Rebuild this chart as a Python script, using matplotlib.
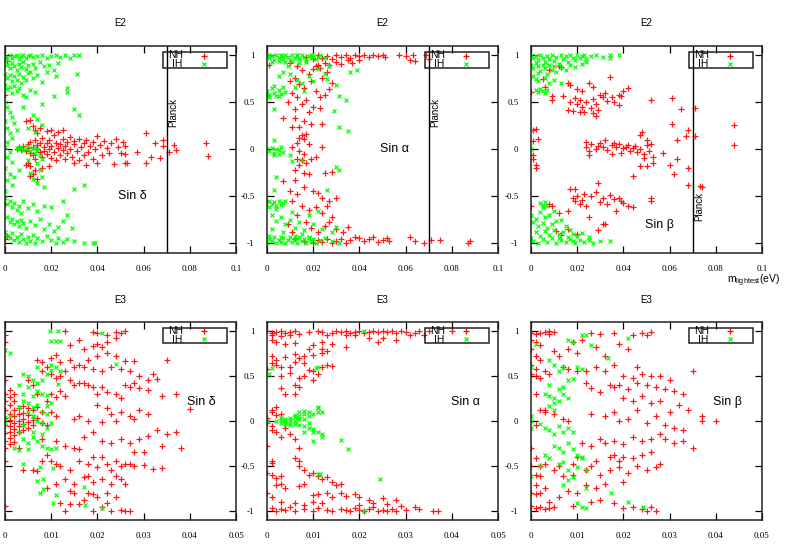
import numpy as np
import matplotlib
matplotlib.use("Agg")
import matplotlib.pyplot as plt
from matplotlib.ticker import FuncFormatter
from matplotlib.patches import Rectangle

# ---- data (m_lightest, sin value) ----

# E2, sin delta
e2_delta_nh = np.array([
    (0.000,0.98),(0.000,0.58),(0.000,-0.58),(0.000,-0.96),(0.001,0.94),(0.001,-0.92),
    (0.005,0.0),(0.006,0.02),(0.007,-0.01),(0.008,0.03),(0.009,-0.02),(0.010,0.01),(0.010,0.05),
    (0.011,-0.04),(0.011,0.08),(0.012,-0.06),(0.012,0.02),(0.013,0.10),(0.013,-0.10),(0.014,0.0),
    (0.014,0.04),(0.015,-0.03),(0.015,0.07),(0.016,0.12),(0.016,-0.08),(0.017,0.02),(0.017,-0.02),
    (0.018,0.06),(0.018,-0.05),(0.019,0.0),(0.019,0.10),(0.020,-0.09),(0.020,0.03),(0.021,0.15),
    (0.021,-0.03),(0.022,0.07),(0.022,-0.12),(0.023,0.01),(0.023,0.18),(0.024,-0.06),(0.024,0.05),
    (0.025,-0.01),(0.025,0.11),(0.026,0.03),(0.026,-0.10),(0.027,0.08),(0.027,-0.04),(0.028,0.00),
    (0.028,0.13),(0.029,-0.08),(0.030,0.05),(0.030,0.09),(0.031,-0.02),(0.032,0.11),(0.032,-0.12),
    (0.033,0.02),(0.034,0.07),(0.034,-0.06),(0.035,0.10),(0.036,-0.03),(0.037,0.03),(0.038,-0.10),
    (0.038,0.08),(0.039,0.00),(0.040,0.14),(0.040,-0.15),(0.041,0.04),(0.042,-0.06),(0.043,0.09),
    (0.044,0.01),(0.045,-0.04),(0.046,0.06),(0.047,-0.16),(0.048,0.11),(0.049,0.02),(0.050,-0.04),
    (0.051,0.08),(0.052,-0.05),(0.052,0.03),(0.053,-0.15),
    (0.061,0.17),(0.065,0.06),(0.0685,0.10),(0.0685,0.03),(0.057,-0.03),(0.063,-0.08),(0.067,-0.09),
    (0.071,-0.03),(0.073,0.04),(0.074,-0.01),(0.087,0.07),(0.088,-0.07),(0.061,-0.15),(0.052,-0.15),
    (0.009,0.30),(0.011,0.31),(0.012,0.25),(0.013,0.20),(0.014,0.17),(0.015,0.22),(0.018,0.19),
    (0.020,0.20),(0.011,-0.18),(0.011,-0.29),(0.012,-0.26),(0.013,-0.22),(0.014,-0.32),(0.016,-0.20),
    (0.019,-0.18),(0.010,-0.15),(0.009,-0.17),(0.025,0.20),(0.030,-0.15),(0.035,-0.17),
])
e2_delta_ih = np.array([
    (0.000,0.98),(0.001,0.95),(0.002,1.0),(0.003,0.97),(0.004,0.99),(0.005,1.0),(0.006,0.96),
    (0.007,0.99),(0.008,1.0),(0.009,0.97),(0.010,0.99),(0.011,1.0),(0.012,0.98),(0.014,0.99),
    (0.016,1.0),(0.018,0.97),(0.020,0.99),(0.022,1.0),(0.024,0.98),(0.026,1.0),(0.028,0.97),
    (0.030,1.0),(0.032,1.0),
    (0.001,0.90),(0.002,0.86),(0.003,0.92),(0.004,0.88),(0.005,0.84),(0.006,0.91),(0.007,0.87),
    (0.008,0.93),(0.009,0.85),(0.010,0.89),(0.011,0.82),(0.012,0.91),(0.013,0.86),(0.015,0.93),
    (0.017,0.88),(0.019,0.90),(0.021,0.84),(0.023,0.92),
    (0.000,0.80),(0.001,0.76),(0.002,0.79),(0.003,0.72),(0.004,0.78),(0.005,0.74),(0.006,0.80),
    (0.007,0.70),(0.008,0.77),(0.009,0.73),(0.010,0.81),(0.012,0.76),(0.014,0.79),(0.016,0.71),
    (0.018,0.82),(0.022,0.78),(0.031,0.80),
    (0.000,0.68),(0.001,0.64),(0.002,0.66),(0.003,0.60),(0.004,0.67),(0.005,0.62),(0.006,0.65),
    (0.008,0.58),(0.009,0.55),(0.011,0.63),(0.013,0.61),(0.016,0.48),(0.021,0.56),(0.027,0.65),
    (0.027,0.61),(0.030,0.43),(0.032,0.36),(0.008,0.45),
    (0.000,0.50),(0.001,0.45),(0.002,0.40),(0.003,0.34),(0.000,0.30),(0.001,0.22),(0.002,0.17),
    (0.003,0.12),(0.001,0.08),(0.000,0.02),(0.002,-0.03),(0.001,-0.08),(0.003,-0.14),(0.000,-0.20),
    (0.002,-0.27),(0.001,-0.33),(0.003,-0.38),(0.000,-0.45),(0.004,0.28),(0.005,0.20),(0.006,-0.22),
    (0.004,-0.30),(0.012,0.36),(0.014,0.32),(0.016,0.26),(0.010,0.22),(0.013,0.18),
    (0.005,0.01),(0.006,0.0),(0.007,0.02),(0.008,-0.01),(0.009,0.0),(0.010,0.03),(0.011,-0.02),
    (0.012,0.01),(0.013,-0.04),(0.014,0.0),(0.015,-0.06),(0.016,-0.10),(0.014,-0.15),(0.015,-0.22),
    (0.016,-0.30),(0.014,-0.36),(0.017,-0.40),(0.012,-0.32),(0.011,-0.25),(0.030,-0.42),(0.034,-0.38),
    (0.010,-0.12),
    (0.000,-0.52),(0.001,-0.58),(0.002,-0.55),(0.003,-0.62),(0.004,-0.57),(0.005,-0.65),(0.006,-0.60),
    (0.007,-0.68),(0.008,-0.55),(0.010,-0.63),(0.012,-0.58),(0.014,-0.66),(0.017,-0.60),(0.020,-0.62),
    (0.025,-0.55),(0.027,-0.70),
    (0.001,-0.72),(0.002,-0.78),(0.003,-0.74),(0.004,-0.80),(0.005,-0.76),(0.006,-0.82),(0.007,-0.75),
    (0.008,-0.79),(0.009,-0.84),(0.011,-0.77),(0.013,-0.81),(0.015,-0.74),(0.017,-0.85),(0.019,-0.80),
    (0.021,-0.87),(0.023,-0.83),(0.025,-0.76),(0.029,-0.84),
    (0.000,-0.88),(0.001,-0.92),(0.002,-0.95),(0.003,-0.89),(0.004,-0.97),(0.005,-0.93),(0.006,-0.99),
    (0.007,-0.90),(0.008,-0.96),(0.009,-1.0),(0.010,-0.94),(0.011,-0.98),(0.012,-0.91),(0.013,-1.0),
    (0.014,-0.95),(0.016,-0.98),(0.018,-0.92),(0.020,-0.97),(0.022,-1.0),(0.023,-0.95),(0.025,-0.99),
    (0.027,-0.96),(0.030,-0.98),(0.034,-1.0),(0.038,-1.0),(0.039,-1.0),
])

# E2, sin alpha
e2_alpha_nh = np.array([
    (0.017,0.98),(0.020,0.96),(0.022,1.0),(0.024,0.97),(0.026,0.99),(0.028,0.96),(0.030,1.0),
    (0.032,0.98),(0.034,1.0),(0.036,0.97),(0.038,1.0),(0.040,0.99),(0.042,1.0),(0.044,0.98),
    (0.046,1.0),(0.048,0.99),(0.050,1.0),(0.051,0.98),(0.057,1.0),(0.060,0.99),(0.063,1.0),
    (0.062,0.95),(0.064,0.94),(0.069,1.0),(0.070,0.96),(0.030,0.93),(0.032,0.91),(0.035,0.95),
    (0.037,0.92),(0.040,0.95),(0.025,0.92),(0.027,0.90),(0.021,0.88),(0.023,0.86),
    (0.010,0.92),(0.013,0.88),(0.015,0.84),(0.018,0.80),(0.020,0.85),(0.022,0.90),(0.024,0.76),
    (0.026,0.82),(0.028,0.70),(0.012,0.76),(0.010,0.72),(0.014,0.69),(0.016,0.65),(0.019,0.72),
    (0.021,0.62),(0.023,0.55),(0.025,0.58),(0.027,0.64),(0.011,0.60),(0.013,0.55),(0.009,0.50),
    (0.015,0.48),(0.017,0.52),(0.020,0.45),(0.023,0.44),(0.018,0.40),(0.012,0.43),(0.007,0.33),
    (0.012,0.33),(0.011,0.23),(0.014,0.24),(0.016,0.30),(0.019,0.27),(0.024,0.27),(0.015,0.15),
    (0.014,0.12),(0.016,0.11),(0.017,0.16),(0.013,0.07),(0.018,0.05),(0.024,0.02),(0.011,0.02),
    (0.014,-0.02),(0.016,-0.05),(0.013,-0.10),(0.015,-0.12),(0.017,-0.15),(0.014,-0.17),(0.012,-0.22),
    (0.016,-0.25),(0.018,-0.27),(0.019,-0.10),(0.021,-0.08),(0.025,-0.25),(0.028,-0.24),(0.007,-0.34),
    (0.012,-0.33),(0.010,-0.45),(0.013,-0.48),(0.016,-0.40),(0.020,-0.45),(0.022,-0.47),(0.024,-0.52),
    (0.027,-0.55),(0.030,-0.52),(0.011,-0.55),(0.015,-0.60),(0.018,-0.65),(0.021,-0.62),(0.024,-0.68),
    (0.026,-0.60),(0.028,-0.72),(0.013,-0.70),(0.017,-0.78),(0.019,-0.84),(0.022,-0.88),(0.025,-0.82),
    (0.027,-0.78),(0.030,-0.85),(0.033,-0.88),(0.035,-0.83),(0.009,-0.80),(0.011,-0.88),
    (0.012,-0.96),(0.016,-0.98),(0.020,-1.0),(0.022,-0.97),(0.024,-0.99),(0.026,-0.96),(0.028,-1.0),
    (0.030,-0.98),(0.032,-0.96),(0.034,-1.0),(0.036,-0.97),(0.038,-0.93),(0.040,-0.95),(0.042,-0.98),
    (0.044,-0.96),(0.046,-0.94),(0.048,-0.99),(0.050,-0.97),(0.052,-0.95),(0.053,-0.98),(0.062,-0.94),
    (0.064,-0.98),(0.068,-1.0),(0.071,-0.97),(0.075,-0.97),(0.088,-0.98),(0.087,-1.0),
    (0.000,-0.56),(0.000,0.58),(0.001,0.90),
])
e2_alpha_ih = np.array([
    (0.000,1.0),(0.001,0.97),(0.002,0.99),(0.003,0.95),(0.004,1.0),(0.005,0.97),(0.006,0.99),
    (0.007,0.96),(0.008,1.0),(0.009,0.98),(0.010,0.95),(0.011,1.0),(0.012,0.97),(0.013,0.99),
    (0.014,0.96),(0.015,1.0),(0.016,0.98),(0.017,0.95),(0.018,0.99),(0.019,0.97),(0.020,1.0),
    (0.021,0.96),(0.022,0.98),(0.023,1.0),(0.025,0.97),(0.002,0.93),(0.005,0.94),(0.008,0.93),
    (0.011,0.94),(0.014,0.92),(0.017,0.93),(0.001,1.0),(0.006,1.0),(0.013,1.0),(0.019,1.0),
    (0.005,0.78),(0.007,0.82),(0.010,0.80),(0.013,0.73),(0.015,0.70),(0.018,0.78),(0.020,0.72),
    (0.025,0.80),(0.026,0.75),(0.030,0.68),(0.031,0.56),(0.034,0.52),(0.036,0.82),(0.039,0.84),
    (0.029,0.41),(0.031,0.24),(0.035,0.19),(0.003,0.43),(0.003,0.10),(0.009,0.88),(0.012,0.66),
    (0.016,0.62),(0.022,0.85),(0.027,0.88),
    (0.000,0.62),(0.001,0.58),(0.002,0.65),(0.003,0.60),(0.004,0.56),(0.005,0.63),(0.006,0.59),
    (0.007,0.66),(0.008,0.61),(0.001,0.55),(0.003,0.67),(0.005,0.57),
    (0.000,0.0),(0.001,-0.02),(0.002,0.01),(0.003,-0.04),(0.004,0.0),(0.005,-0.01),(0.006,0.02),
    (0.007,-0.03),(0.003,-0.06),(0.005,-0.05),
    (0.030,-0.19),(0.031,-0.22),(0.026,-0.43),(0.003,-0.43),(0.010,-0.06),(0.011,-0.13),(0.015,-0.12),
    (0.004,-0.30),
    (0.001,-0.55),(0.002,-0.58),(0.003,-0.56),(0.004,-0.60),(0.005,-0.55),(0.006,-0.59),(0.007,-0.57),
    (0.008,-0.55),(0.001,-0.62),(0.004,-0.64),
    (0.002,-0.70),(0.004,-0.76),(0.006,-0.72),(0.008,-0.80),(0.010,-0.75),(0.012,-0.84),(0.014,-0.78),
    (0.016,-0.86),(0.018,-0.70),(0.020,-0.80),(0.022,-0.66),(0.024,-0.85),(0.028,-0.88),(0.030,-0.83),
    (0.002,-0.85),(0.007,-0.88),(0.011,-0.67),(0.015,-0.90),
    (0.000,-1.0),(0.001,-0.96),(0.002,-0.98),(0.003,-0.94),(0.004,-1.0),(0.005,-0.97),(0.006,-0.99),
    (0.007,-0.95),(0.008,-1.0),(0.009,-0.97),(0.010,-0.93),(0.011,-0.99),(0.012,-0.96),(0.013,-1.0),
    (0.014,-0.94),(0.015,-0.98),(0.016,-0.96),(0.017,-1.0),(0.018,-0.95),(0.019,-0.98),(0.020,-0.96),
    (0.021,-1.0),(0.023,-0.97),(0.025,-0.95),(0.028,-0.98),(0.031,-1.0),(0.001,-0.92),(0.006,-0.93),
    (0.012,-0.92),(0.018,-0.93),
])

# E2, sin beta
e2_beta_nh = np.array([
    (0.000,0.61),(0.000,-0.60),(0.001,0.20),(0.002,0.21),(0.003,0.11),(0.001,0.09),(0.001,-0.10),
    (0.002,-0.17),(0.002,-0.20),(0.001,-0.06),
    (0.008,0.84),(0.012,0.88),(0.013,0.87),(0.016,0.70),(0.017,0.68),(0.020,0.64),(0.022,0.62),
    (0.025,0.70),(0.027,0.66),(0.030,0.58),(0.032,0.60),(0.034,0.77),(0.035,0.55),(0.038,0.58),
    (0.040,0.62),(0.042,0.65),(0.009,0.57),(0.009,0.52),(0.014,0.56),(0.017,0.50),(0.019,0.54),
    (0.020,0.48),(0.021,0.52),(0.022,0.45),(0.024,0.50),(0.026,0.44),(0.027,0.53),(0.028,0.48),
    (0.029,0.42),(0.031,0.55),(0.033,0.51),(0.036,0.50),(0.038,0.47),(0.039,0.56),(0.018,0.41),
    (0.016,0.42),(0.021,0.40),(0.023,0.39),(0.028,0.35),(0.027,0.38),(0.052,0.52),(0.061,0.54),
    (0.065,0.43),(0.071,0.44),(0.005,0.75),(0.006,0.66),
    (0.024,0.08),(0.024,0.02),(0.025,-0.02),(0.026,0.05),(0.028,0.0),(0.029,0.03),(0.031,0.02),
    (0.032,0.10),(0.033,-0.01),(0.035,0.04),(0.036,0.06),(0.037,0.02),(0.038,0.05),(0.039,-0.04),
    (0.040,0.01),(0.041,0.02),(0.042,0.04),(0.043,-0.02),(0.044,0.01),(0.045,0.03),(0.046,-0.03),
    (0.047,0.15),(0.048,0.18),(0.047,0.0),(0.049,-0.05),(0.050,0.04),(0.051,-0.02),(0.052,0.05),
    (0.050,0.10),(0.053,-0.08),(0.049,-0.09),(0.035,-0.05),(0.025,-0.06),(0.030,0.07),(0.057,-0.04),
    (0.060,-0.17),(0.062,-0.27),(0.063,-0.10),(0.061,0.27),(0.063,0.10),(0.068,0.20),(0.067,0.14),
    (0.071,0.14),(0.088,0.26),(0.088,0.04),(0.044,-0.29),(0.047,-0.18),(0.050,-0.18),(0.053,-0.15),
    (0.068,-0.20),(0.068,-0.38),(0.073,-0.39),(0.074,-0.40),
    (0.009,-0.60),(0.008,-0.58),(0.012,-0.68),(0.016,-0.66),(0.017,-0.42),(0.019,-0.42),(0.018,-0.52),
    (0.019,-0.55),(0.020,-0.50),(0.021,-0.58),(0.022,-0.54),(0.023,-0.48),(0.024,-0.60),(0.026,-0.50),
    (0.028,-0.46),(0.029,-0.36),(0.030,-0.56),(0.031,-0.52),(0.033,-0.58),(0.034,-0.49),(0.036,-0.53),
    (0.038,-0.52),(0.039,-0.55),(0.040,-0.57),(0.042,-0.60),(0.037,-0.66),(0.044,-0.62),(0.052,-0.52),
    (0.052,-0.55),(0.025,-0.72),(0.031,-0.80),(0.029,-0.86),(0.020,-0.90),(0.016,-0.85),(0.013,-0.91),
    (0.011,-0.87),(0.032,-0.80),
])
e2_beta_ih = np.array([
    (0.000,1.0),(0.001,0.97),(0.002,0.99),(0.003,0.95),(0.004,1.0),(0.005,0.97),(0.006,0.93),
    (0.007,0.99),(0.008,0.96),(0.009,1.0),(0.010,0.94),(0.011,0.98),(0.012,0.91),(0.013,1.0),
    (0.014,0.96),(0.015,0.99),(0.016,0.93),(0.017,1.0),(0.018,0.97),(0.019,0.95),(0.020,1.0),
    (0.021,0.97),(0.022,0.99),(0.023,1.0),(0.024,0.96),(0.026,0.99),(0.028,1.0),(0.031,0.98),
    (0.034,0.97),(0.038,1.0),(0.034,1.0),
    (0.000,0.90),(0.001,0.86),(0.002,0.92),(0.003,0.88),(0.004,0.83),(0.005,0.90),(0.006,0.86),
    (0.007,0.80),(0.008,0.89),(0.009,0.84),(0.010,0.88),(0.011,0.82),(0.013,0.87),(0.015,0.84),
    (0.017,0.90),(0.019,0.87),(0.022,0.91),(0.024,0.93),(0.001,0.78),(0.002,0.75),(0.003,0.81),
    (0.006,0.76),(0.008,0.70),(0.013,0.70),(0.010,0.74),(0.003,0.72),
    (0.002,0.63),(0.003,0.61),(0.004,0.64),(0.005,0.62),(0.006,0.60),(0.007,0.63),
    (0.000,0.0),
    (0.004,-0.57),(0.005,-0.59),(0.006,-0.56),(0.007,-0.60),(0.005,-0.62),
    (0.000,-0.70),(0.002,-0.74),(0.004,-0.67),(0.006,-0.72),(0.008,-0.70),(0.010,-0.66),(0.001,-0.78),
    (0.003,-0.82),(0.005,-0.79),(0.007,-0.84),(0.009,-0.80),(0.011,-0.77),(0.013,-0.75),(0.015,-0.82),
    (0.017,-0.86),(0.002,-0.88),(0.004,-0.92),(0.006,-0.87),(0.008,-0.91),(0.010,-0.86),(0.012,-0.90),
    (0.014,-0.88),(0.016,-0.93),(0.018,-0.90),(0.020,-0.92),(0.022,-0.89),(0.025,-0.94),(0.000,-0.95),
    (0.001,-0.98),(0.003,-1.0),(0.005,-0.96),(0.007,-0.99),(0.009,-0.95),(0.011,-1.0),(0.013,-0.97),
    (0.015,-0.99),(0.017,-0.96),(0.019,-1.0),(0.021,-0.97),(0.023,-0.99),(0.025,-0.97),(0.027,-1.0),
    (0.030,-0.98),(0.034,-0.98),(0.012,-0.95),(0.018,-0.98),
])

# E3, sin delta
e3_delta_nh = np.array([
    (0.000,0.30),(0.000,0.22),(0.000,0.12),(0.000,0.03),(0.000,-0.05),(0.000,-0.14),(0.000,-0.22),
    (0.000,-0.30),(0.000,-0.45),(0.000,0.45),(0.001,0.27),(0.001,0.18),(0.001,0.08),(0.001,0.01),
    (0.001,-0.06),(0.001,-0.12),(0.001,-0.19),(0.001,-0.26),(0.002,0.22),(0.002,0.12),(0.002,0.05),
    (0.002,-0.02),(0.002,-0.09),(0.002,-0.16),(0.002,-0.24),(0.003,0.14),(0.003,0.07),(0.003,0.0),
    (0.003,-0.06),(0.003,-0.12),(0.004,0.16),(0.004,0.09),(0.004,0.02),(0.004,-0.04),(0.004,-0.10),
    (0.005,0.14),(0.005,0.06),(0.005,-0.01),(0.005,-0.08),(0.006,0.12),(0.006,0.01),(0.006,-0.05),
    (0.007,0.15),(0.007,0.03),(0.008,-0.02),(0.008,0.10),(0.001,0.34),(0.002,0.30),(0.003,-0.30),
    (0.000,0.88),(0.000,0.95),(0.000,-0.95),
    (0.013,1.0),(0.019,0.99),(0.020,0.98),(0.024,0.99),(0.026,1.0),(0.025,0.98),(0.022,0.95),
    (0.024,0.92),(0.022,0.88),(0.020,0.85),(0.019,0.83),(0.021,0.82),(0.014,0.84),(0.016,0.90),
    (0.017,0.80),(0.010,0.70),(0.011,0.73),(0.012,0.66),(0.014,0.68),(0.016,0.62),(0.018,0.68),
    (0.020,0.72),(0.022,0.75),(0.024,0.72),(0.026,0.67),(0.028,0.67),(0.015,0.60),(0.017,0.60),
    (0.019,0.58),(0.021,0.55),(0.023,0.60),(0.025,0.58),(0.027,0.55),(0.029,0.50),(0.032,0.52),
    (0.035,0.68),(0.031,0.45),(0.033,0.47),(0.028,0.42),(0.026,0.40),(0.027,0.38),(0.029,0.36),
    (0.031,0.34),(0.034,0.28),(0.037,0.30),(0.040,0.13),(0.008,0.55),(0.009,0.60),(0.008,0.65),
    (0.007,0.68),(0.010,0.52),(0.011,0.48),(0.012,0.50),(0.013,0.55),(0.014,0.45),(0.015,0.40),
    (0.016,0.42),(0.017,0.42),(0.018,0.40),(0.019,0.38),(0.020,0.30),(0.021,0.38),(0.022,0.32),
    (0.024,0.30),(0.025,0.25),(0.012,0.33),(0.013,0.28),(0.010,0.30),(0.011,0.27),(0.006,0.40),
    (0.005,0.45),(0.007,0.30),(0.009,0.22),(0.020,0.18),(0.022,0.14),(0.023,0.08),(0.025,0.10),
    (0.027,0.05),(0.029,0.12),(0.031,0.07),(0.016,0.05),(0.015,0.02),(0.018,0.0),(0.021,-0.01),
    (0.024,0.0),(0.028,0.02),(0.010,0.10),(0.011,0.05),(0.009,-0.05),
    (0.037,-0.12),(0.034,-0.28),(0.038,-0.30),(0.031,-0.17),(0.029,-0.20),(0.028,-0.35),(0.025,-0.20),
    (0.023,-0.25),(0.021,-0.22),(0.019,-0.12),(0.017,-0.18),(0.015,-0.30),(0.016,-0.32),(0.013,-0.28),
    (0.011,-0.22),(0.008,-0.20),(0.009,-0.38),(0.010,-0.45),(0.012,-0.50),(0.011,-0.48),(0.008,-0.45),
    (0.006,-0.55),(0.007,-0.56),(0.004,-0.55),(0.014,-0.55),(0.016,-0.45),(0.018,-0.48),(0.019,-0.40),
    (0.020,-0.52),(0.021,-0.40),(0.022,-0.48),(0.023,-0.55),(0.024,-0.45),(0.025,-0.50),(0.026,-0.48),
    (0.027,-0.48),(0.028,-0.50),(0.030,-0.49),(0.032,-0.54),(0.034,-0.53),(0.013,-0.65),(0.015,-0.70),
    (0.017,-0.63),(0.018,-0.62),(0.019,-0.68),(0.021,-0.65),(0.023,-0.70),(0.024,-0.62),(0.025,-0.65),
    (0.026,-0.70),(0.014,-0.78),(0.015,-0.80),(0.018,-0.80),(0.019,-0.82),(0.020,-0.85),(0.022,-0.80),
    (0.024,-0.85),(0.012,-0.92),(0.014,-0.93),(0.016,-0.93),(0.017,-0.88),(0.013,-1.0),(0.019,-1.0),
    (0.021,-0.96),(0.023,-1.0),(0.025,-0.99),(0.026,-1.0),(0.027,-1.0),(0.022,-0.92),(0.011,-0.70),
    (0.009,-0.75),(0.030,-0.35),(0.027,-0.25),(0.033,-0.10),(0.035,-0.15),
])
e3_delta_ih = np.array([
    (0.000,0.03),(0.000,-0.02),(0.001,0.05),(0.0097,1.0),(0.0115,1.0),(0.010,0.89),(0.011,0.89),
    (0.012,0.89),(0.021,0.98),(0.021,-0.97),(0.000,0.79),(0.001,0.75),(0.011,-0.83),(0.0076,-0.81),
    (0.0083,-0.76),(0.0083,-0.65),(0.007,-0.67),(0.0104,-0.92),(0.017,-0.74),(0.0173,-0.94),
    (0.024,0.63),(0.004,-0.48),(0.0076,-0.51),(0.0104,-0.53),(0.0115,0.41),
    (0.004,0.52),(0.005,0.50),(0.006,0.45),(0.007,0.42),(0.005,0.38),(0.004,0.30),(0.006,0.28),
    (0.007,0.33),(0.008,0.30),(0.008,0.45),(0.009,0.52),(0.010,0.56),(0.011,0.60),(0.010,0.62),
    (0.012,0.55),(0.007,0.60),(0.009,0.29),(0.005,0.20),(0.006,0.15),(0.007,0.18),(0.008,0.10),
    (0.009,0.16),(0.004,0.22),(0.003,0.15),(0.005,0.10),(0.006,0.05),(0.007,0.0),(0.008,-0.03),
    (0.009,-0.08),(0.010,-0.02),(0.004,-0.05),(0.003,-0.12),(0.004,-0.20),(0.005,-0.25),(0.006,-0.18),
    (0.007,-0.22),(0.008,-0.28),(0.009,-0.30),(0.010,-0.32),(0.011,-0.30),(0.005,-0.32),(0.003,-0.33),
    (0.006,-0.12),(0.008,-0.15),(0.002,-0.30),(0.010,0.20),(0.009,0.07),(0.003,0.40),(0.006,0.05),
])

# E3, sin alpha
e3_alpha_nh = np.array([
    (0.000,1.0),(0.001,0.98),(0.002,0.99),(0.003,1.0),(0.004,0.98),(0.005,0.99),(0.006,1.0),
    (0.007,0.97),(0.009,0.99),(0.011,1.0),(0.012,0.99),(0.014,0.98),(0.015,1.0),(0.016,0.99),
    (0.017,1.0),(0.018,0.98),(0.019,0.99),(0.020,1.0),(0.021,0.98),(0.022,0.99),(0.023,1.0),
    (0.024,0.99),(0.025,1.0),(0.026,0.99),(0.027,1.0),(0.028,0.98),(0.029,1.0),(0.030,0.99),
    (0.032,0.98),(0.033,1.0),(0.035,1.0),(0.040,1.0),(0.034,0.96),(0.031,0.96),(0.001,0.95),
    (0.003,0.94),(0.005,0.96),(0.013,0.95),(0.017,0.96),(0.019,0.96),(0.022,0.92),(0.024,0.88),
    (0.025,0.92),(0.028,0.90),(0.001,0.90),(0.002,0.88),(0.004,0.85),(0.006,0.87),(0.010,0.84),
    (0.012,0.88),(0.014,0.85),(0.017,0.82),(0.009,0.80),(0.012,0.80),(0.013,0.78),(0.001,0.72),
    (0.002,0.68),(0.004,0.71),(0.006,0.74),(0.007,0.70),(0.008,0.72),(0.010,0.73),(0.012,0.75),
    (0.001,0.64),(0.002,0.62),(0.003,0.60),(0.000,0.58),(0.005,0.60),(0.006,0.65),(0.008,0.64),
    (0.009,0.56),(0.011,0.52),(0.010,0.55),(0.012,0.60),(0.014,0.61),(0.013,0.62),(0.003,0.50),
    (0.005,0.53),(0.007,0.48),(0.006,0.40),(0.007,0.38),(0.008,0.50),(0.010,0.45),(0.003,0.36),
    (0.004,0.30),(0.006,0.30),
    (0.000,0.0),(0.000,0.03),(0.000,-0.03),(0.001,0.1),(0.001,0.12),(0.001,-0.1),(0.001,-0.06),
    (0.002,0.06),(0.002,0.15),(0.002,-0.12),(0.003,-0.18),(0.004,-0.08),(0.005,-0.15),(0.006,-0.20),
    (0.007,-0.3),(0.000,-0.28),(0.003,0.08),(0.001,-0.45),(0.001,-0.47),
    (0.000,-0.58),(0.001,-0.60),(0.002,-0.64),(0.003,-0.62),(0.006,-0.42),(0.007,-0.45),(0.007,-0.50),
    (0.008,-0.55),(0.009,-0.60),(0.010,-0.58),(0.011,-0.62),(0.012,-0.65),(0.013,-0.63),(0.014,-0.68),
    (0.015,-0.72),(0.016,-0.70),(0.002,-0.72),(0.003,-0.70),(0.004,-0.75),(0.007,-0.73),(0.008,-0.71),
    (0.010,-0.83),(0.011,-0.82),(0.013,-0.80),(0.014,-0.85),(0.016,-0.80),(0.017,-0.84),(0.019,-0.82),
    (0.020,-0.85),(0.022,-0.88),(0.025,-0.86),(0.028,-0.88),(0.000,-0.80),(0.001,-0.85),(0.003,-0.90),
    (0.006,-0.92),(0.008,-0.94),(0.010,-0.90),(0.012,-0.92),(0.001,-0.97),(0.002,-1.0),(0.003,-0.98),
    (0.004,-0.99),(0.005,-0.96),(0.006,-1.0),(0.008,-0.98),(0.010,-1.0),(0.011,-0.97),(0.013,-0.99),
    (0.014,-1.0),(0.016,-0.98),(0.017,-0.99),(0.018,-1.0),(0.019,-0.97),(0.020,-0.99),(0.021,-1.0),
    (0.022,-0.98),(0.023,-0.96),(0.024,-1.0),(0.025,-0.99),(0.026,-1.0),(0.027,-0.98),(0.028,-1.0),
    (0.030,-0.99),(0.032,-0.96),(0.033,-0.98),(0.036,-1.0),(0.037,-1.0),(0.020,-0.94),(0.023,-0.92),
    (0.026,-0.93),(0.029,-0.95),
])
e3_alpha_ih = np.array([
    (0.000,0.0),(0.001,0.59),(0.0005,0.52),(0.0107,0.59),(0.011,0.60),(0.016,-0.21),(0.0175,-0.32),
    (0.0244,-0.65),(0.011,-0.59),(0.0115,-0.59),(0.0211,1.0),(0.0211,-1.0),
    (0.002,0.0),(0.003,0.01),(0.003,-0.02),(0.004,0.02),(0.004,-0.01),(0.004,0.0),(0.005,0.01),
    (0.005,-0.02),(0.005,0.03),(0.006,0.0),(0.006,0.04),(0.006,-0.04),(0.007,0.02),(0.007,0.05),
    (0.007,-0.05),(0.008,0.08),(0.008,-0.06),(0.008,0.11),(0.009,0.10),(0.009,-0.08),(0.009,-0.03),
    (0.010,0.07),(0.010,-0.12),(0.010,-0.09),(0.011,0.10),(0.011,0.14),(0.011,0.15),(0.011,-0.13),
    (0.012,-0.15),(0.012,-0.18),(0.012,0.10),(0.009,0.05),(0.008,-0.12),(0.010,-0.22),(0.007,0.10),
    (0.006,0.06),(0.005,-0.05),(0.008,0.02),(0.003,0.03),(0.004,-0.04),
])

# E3, sin beta
e3_beta_nh = np.array([
    (0.000,0.98),(0.001,0.97),(0.002,0.98),(0.003,0.99),(0.004,0.97),(0.005,0.99),(0.004,1.0),
    (0.000,0.90),(0.001,0.88),(0.002,0.84),(0.000,0.80),(0.001,0.72),(0.002,0.68),(0.000,0.62),
    (0.001,0.58),(0.003,0.55),(0.000,0.52),(0.001,0.50),(0.002,0.48),(0.004,0.52),(0.001,0.30),
    (0.002,0.12),(0.003,0.10),(0.001,-0.05),(0.000,-0.30),(0.001,-0.42),(0.002,-0.50),(0.000,-0.50),
    (0.003,-0.48),(0.001,-0.60),(0.002,-0.62),(0.001,-0.72),(0.003,-0.75),(0.000,-0.80),(0.001,-0.82),
    (0.002,-0.80),(0.000,-0.95),(0.001,-0.97),(0.002,-0.96),(0.003,-0.98),(0.004,-0.97),(0.005,-0.96),
    (0.004,-0.90),
    (0.005,0.78),(0.006,0.72),(0.008,0.80),(0.010,0.75),(0.009,0.88),(0.011,0.90),(0.013,0.98),
    (0.015,0.97),(0.018,0.98),(0.022,0.96),(0.024,0.98),(0.026,0.99),(0.025,0.95),(0.019,0.85),
    (0.021,0.80),(0.014,0.82),(0.016,0.72),(0.007,0.60),(0.008,0.58),(0.010,0.55),(0.012,0.55),
    (0.014,0.60),(0.016,0.55),(0.018,0.62),(0.020,0.50),(0.022,0.48),(0.024,0.52),(0.026,0.50),
    (0.028,0.50),(0.030,0.45),(0.035,0.55),(0.023,0.60),(0.017,0.40),(0.018,0.38),(0.019,0.40),
    (0.021,0.35),(0.023,0.42),(0.025,0.40),(0.027,0.38),(0.029,0.35),(0.031,0.33),(0.033,0.30),
    (0.012,0.42),(0.013,0.36),(0.015,0.32),(0.020,0.25),(0.022,0.22),(0.024,0.28),(0.026,0.20),
    (0.028,0.22),(0.032,0.18),(0.034,0.12),(0.030,0.10),(0.037,0.05),(0.037,0.0),(0.040,0.0),
    (0.003,0.12),(0.005,0.08),(0.007,0.02),(0.008,0.0),(0.013,0.08),(0.016,0.05),(0.018,0.10),
    (0.019,0.0),(0.021,0.02),(0.023,0.12),(0.025,-0.02),(0.027,0.05),(0.029,-0.05),(0.031,-0.08),
    (0.033,-0.10),(0.028,-0.15),(0.026,-0.20),(0.024,-0.22),(0.022,-0.18),(0.020,-0.26),(0.018,-0.22),
    (0.016,-0.25),(0.015,-0.20),(0.013,-0.28),(0.011,-0.25),(0.029,-0.20),(0.031,-0.25),(0.033,-0.22),
    (0.035,-0.30),(0.017,-0.40),(0.018,-0.38),(0.019,-0.45),(0.020,-0.40),(0.022,-0.42),(0.024,-0.38),
    (0.026,-0.35),(0.028,-0.48),(0.014,-0.45),(0.013,-0.50),(0.012,-0.55),(0.010,-0.40),(0.009,-0.48),
    (0.006,-0.50),(0.005,-0.55),(0.007,-0.62),(0.009,-0.60),(0.015,-0.60),(0.017,-0.55),(0.019,-0.52),
    (0.021,-0.58),(0.023,-0.50),(0.025,-0.55),(0.027,-0.52),(0.020,-0.68),(0.016,-0.70),(0.014,-0.75),
    (0.012,-0.72),(0.010,-0.80),(0.008,-0.78),(0.006,-0.85),(0.013,-0.90),(0.015,-0.88),(0.018,-0.92),
    (0.020,-0.97),(0.022,-0.96),(0.024,-0.98),(0.026,-0.96),(0.027,-1.0),(0.025,-1.0),(0.009,-0.95),
])
e3_beta_ih = np.array([
    (0.000,0.0),(0.000,0.05),(0.000,-0.08),(0.001,0.85),(0.000,0.60),(0.000,-0.62),(0.0167,0.70),
    (0.0211,0.92),(0.0211,-0.91),(0.0243,-0.96),(0.0174,-0.80),(0.011,0.95),(0.012,0.96),(0.013,0.84),
    (0.008,0.90),(0.009,0.88),(0.011,-0.96),(0.012,-0.97),(0.010,-0.92),
    (0.004,0.68),(0.005,0.62),(0.006,0.55),(0.007,0.60),(0.008,0.45),(0.009,0.47),(0.010,0.60),
    (0.011,0.58),(0.003,0.30),(0.004,0.28),(0.005,0.25),(0.006,0.22),(0.007,0.30),(0.008,0.25),
    (0.005,0.20),(0.004,0.16),(0.006,0.35),(0.007,0.38),(0.004,0.40),(0.005,0.12),(0.002,-0.04),
    (0.003,-0.08),(0.004,-0.10),(0.005,-0.15),(0.006,-0.06),(0.007,-0.12),(0.008,-0.08),(0.009,-0.12),
    (0.005,-0.28),(0.006,-0.30),(0.007,-0.35),(0.008,-0.25),(0.009,-0.32),(0.010,-0.38),(0.011,-0.40),
    (0.004,-0.42),(0.006,-0.48),(0.007,-0.46),(0.008,-0.55),(0.010,-0.52),(0.011,-0.42),(0.012,-0.55),
    (0.009,-0.63),(0.008,-0.66),(0.007,-0.72),(0.003,-0.38),(0.002,-0.50),(0.012,-0.75),
])

titles = ["E2", "E2", "E2", "E3", "E3", "E3"]
labels = ["Sin δ", "Sin α", "Sin β", "Sin δ", "Sin α", "Sin β"]
nh_sets = [e2_delta_nh, e2_alpha_nh, e2_beta_nh, e3_delta_nh, e3_alpha_nh, e3_beta_nh]
ih_sets = [e2_delta_ih, e2_alpha_ih, e2_beta_ih, e3_delta_ih, e3_alpha_ih, e3_beta_ih]
label_pos = [(0.0552, -0.50), (0.0554, 0.0), (0.0554, -0.81),
             (0.0424, 0.21), (0.0429, 0.21), (0.0426, 0.21)]
planck_mass = 0.07
planck_text_y = [0.39, 0.39, -0.61]

RED = "#ff0000"
GREEN = "#00ff00"
SERIF = ["Liberation Serif", "DejaVu Serif"]
SANS = ["Liberation Sans", "DejaVu Sans"]

W, H = 789, 552
fig = plt.figure(figsize=(W / 100, H / 100), dpi=100)

lefts = [5, 267, 531]
fmt = FuncFormatter(lambda v, p: "%g" % round(v, 4))

for i in range(6):
    row, col = divmod(i, 3)
    if row == 0:
        top, bot = 45.7, 252.5
        xmax = 0.1
    else:
        top, bot = 322, 519.5
        xmax = 0.05
    ax = fig.add_axes([lefts[col] / W, 1 - bot / H, 231 / W, (bot - top) / H])

    nh = nh_sets[i]
    ih = ih_sets[i]
    ax.plot(nh[:, 0], nh[:, 1], "+", color=RED, ms=4, mew=0.9, alpha=0.9)
    ax.plot(ih[:, 0], ih[:, 1], "x", color=GREEN, ms=3.2, mew=0.9, alpha=0.95)

    ax.set_xlim(0, xmax)
    ax.set_ylim(-1.1, 1.1)
    ax.set_xticks(np.linspace(0, xmax, 6))
    ax.set_yticks([-1, -0.5, 0, 0.5, 1])
    ax.xaxis.set_major_formatter(fmt)
    ax.yaxis.set_major_formatter(fmt)
    # left column: y labels fall off the page in the original, so leave them out
    ax.tick_params(direction="in", top=True, right=True, length=5, width=0.9,
                   labelsize=6.5, pad=9, labelleft=(col != 0))
    for t in ax.get_xticklabels() + ax.get_yticklabels():
        t.set_family(SERIF)
    for s in ax.spines.values():
        s.set_linewidth(1.1)
        s.set_color("#222222")

    ax.set_title(titles[i], fontsize=7, family=SANS, pad=14)
    lx, ly = label_pos[i]
    ax.text(lx, ly, labels[i], fontsize=9, family=SANS, ha="center", va="center")

    if row == 0:
        ax.axvline(planck_mass, color="black", lw=1.0)
        ax.text(planck_mass + 0.0005, planck_text_y[col], "Planck", rotation=90,
                fontsize=7, family=SANS, ha="left", va="center")

    # legend box, drawn gnuplot style
    ax.add_patch(Rectangle((0.684, 0.892), 0.275, 0.077, transform=ax.transAxes,
                           fill=False, lw=1.1, edgecolor="#222222", zorder=5))
    ax.text(0.770, 0.955, "NH", transform=ax.transAxes, fontsize=7.5, family=SANS,
            ha="right", va="center", zorder=6)
    ax.text(0.770, 0.910, "IH", transform=ax.transAxes, fontsize=7.5, family=SANS,
            ha="right", va="center", zorder=6)
    ax.plot([0.862], [0.952], "+", color=RED, ms=4, mew=0.9, transform=ax.transAxes,
            clip_on=False, zorder=6)
    ax.plot([0.862], [0.912], "x", color=GREEN, ms=3.2, mew=0.9, transform=ax.transAxes,
            clip_on=False, zorder=6)

fig.text(780 / W, 1 - 281 / H, r"m$_{\mathregular{lightest}}$(eV)", fontsize=7.5,
         family=SANS, ha="right", va="center")

fig.savefig("out.png", dpi=100)
